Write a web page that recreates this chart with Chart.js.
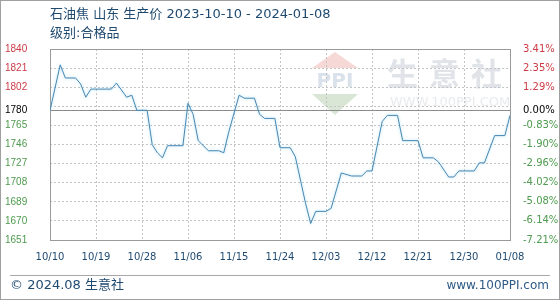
<!DOCTYPE html>
<html>
<head>
<meta charset="utf-8">
<script src="https://cdn.jsdelivr.net/npm/chart.js@4.4.0/dist/chart.umd.min.js"></script>
<style>
    html, body { margin: 0; padding: 0; background: #fff; }
    #wrap { width: 560px; height: 300px; }
</style>
</head>
<body>
<div id="wrap"><canvas id="chart" width="560" height="300"></canvas></div>
<script>
// chart data
var titleText = '石油焦 山东 生产价 2023-10-10 - 2024-01-08';
var subTitleText = '级别:合格品';
var basePrice = 1780;

// day offset from 2023-10-10 and the price at that day
var days   = [0, 2, 3, 5, 6, 7, 8, 12, 13, 15, 16, 17, 19, 20, 21, 22, 23, 26, 27, 28, 29, 31, 33, 34, 35, 37, 38, 40, 41, 42, 44, 45, 47, 48, 50, 51, 52, 54, 55, 57, 59, 61, 62, 63, 65, 66, 68, 69, 72, 73, 75, 76, 78, 79, 80, 83, 84, 85, 87, 89, 90];
var prices = [1780, 1825, 1812, 1812, 1806, 1793, 1801, 1801, 1807, 1793, 1795, 1780, 1780, 1746, 1738, 1733, 1745, 1745, 1787, 1776, 1750, 1740, 1740, 1738, 1759, 1795, 1792, 1792, 1776, 1772, 1772, 1743, 1743, 1734, 1688, 1668, 1680, 1680, 1683, 1718, 1715, 1715, 1720, 1720, 1769, 1775, 1775, 1750, 1750, 1733, 1733, 1729, 1714, 1714, 1720, 1720, 1728, 1728, 1755, 1755, 1775];

var xTickDays   = [0, 9, 18, 27, 36, 45, 54, 63, 72, 81, 90];
var xTickLabels = ['10/10', '10/19', '10/28', '11/06', '11/15', '11/24', '12/03', '12/12', '12/21', '12/30', '01/08'];

var yTickValues     = [1840.70, 1821.80, 1802.89, 1783.99, 1780, 1765.08, 1746.18, 1727.28, 1708.37, 1689.47, 1670.56, 1651.66];
var leftTickLabels  = ['1840', '1821', '1802', '', '1780', '1765', '1746', '1727', '1708', '1689', '1670', '1651'];
var rightTickLabels = ['3.41%', '2.35%', '1.29%', '', '0.00%', '-0.83%', '-1.90%', '-2.96%', '-4.02%', '-5.08%', '-6.14%', '-7.21%'];

var upColor = '#cc3b46';
var downColor = '#4e9a4e';
var textBlue = '#1f4a70';
var gridColor = '#c4c4c4';
var frameColor = '#9a9a9a';

function tickColor(c) {
    var v = c.tick.value;
    if (v > basePrice + 0.001) return upColor;
    if (v < basePrice - 0.001) return downColor;
    return '#000';
}

var decorPlugin = {
    id: 'decor',
    beforeDraw: function (chart) {
        var ctx = chart.ctx;
        ctx.save();
        ctx.fillStyle = '#fff';
        ctx.fillRect(0, 0, chart.width, chart.height);

        // faint watermark logo
        ctx.fillStyle = 'rgba(235,170,165,0.45)';
        ctx.beginPath();
        ctx.moveTo(335, 52); ctx.lineTo(358, 68); ctx.lineTo(312, 68); ctx.closePath();
        ctx.fill();
        ctx.fillStyle = 'rgba(170,200,165,0.45)';
        ctx.beginPath();
        ctx.moveTo(312, 94); ctx.lineTo(358, 94); ctx.lineTo(335, 115); ctx.closePath();
        ctx.fill();
        ctx.fillStyle = 'rgba(180,195,215,0.5)';
        ctx.font = 'bold 20px "DejaVu Sans"';
        ctx.textAlign = 'center';
        ctx.textBaseline = 'middle';
        ctx.fillText('PPI', 335, 82);

        ctx.fillStyle = '#e0e4e9';
        ctx.font = 'bold 31px "Noto Sans CJK SC"';
        ctx.textAlign = 'left';
        ctx.fillText('生', 387, 73);
        ctx.fillText('意', 429, 73);
        ctx.fillText('社', 471, 73);
        ctx.fillStyle = '#e8ebee';
        ctx.font = '13px "DejaVu Sans"';
        ctx.fillText('WWW.100PPI.COM', 390, 103);
        ctx.restore();
    },
    beforeDatasetsDraw: function (chart) {
        var ctx = chart.ctx;
        var a = chart.chartArea;
        var yb = Math.round(chart.scales.y.getPixelForValue(basePrice)) + 0.5;
        ctx.save();
        ctx.strokeStyle = '#8c8c8c';
        ctx.lineWidth = 1;
        ctx.beginPath();
        ctx.moveTo(a.left, yb);
        ctx.lineTo(a.right, yb);
        ctx.stroke();
        ctx.strokeStyle = frameColor;
        ctx.strokeRect(Math.round(a.left) + 0.5, Math.round(a.top) + 0.5,
            Math.round(a.right - a.left), Math.round(a.bottom - a.top));
        ctx.restore();
    },
    beforeDatasetDraw: function (chart) {
        var ctx = chart.ctx;
        ctx.save();
        ctx.shadowColor = 'rgba(120,205,240,0.7)';
        ctx.shadowBlur = 3;
    },
    afterDatasetDraw: function (chart) {
        chart.ctx.restore();
    },
    afterDraw: function (chart) {
        var ctx = chart.ctx;
        ctx.save();
        ctx.textBaseline = 'middle';
        ctx.textAlign = 'left';
        ctx.fillStyle = textBlue;
        ctx.font = '13px "DejaVu Sans", "Noto Sans CJK SC"';
        ctx.fillText(titleText, 50, 15);
        ctx.fillText(subTitleText, 50, 34);

        // footer
        ctx.strokeStyle = '#a8a8a8';
        ctx.lineWidth = 1;
        ctx.beginPath();
        ctx.moveTo(10, 275.5);
        ctx.lineTo(550, 275.5);
        ctx.stroke();
        ctx.fillText('© 2024.08 生意社', 10, 286);
        ctx.textAlign = 'right';
        ctx.fillStyle = '#2d5b86';
        ctx.font = '12px "DejaVu Sans"';
        ctx.fillText('www.100PPI.com', 549, 286);

        // outer frame
        ctx.strokeStyle = '#a0a0a0';
        ctx.strokeRect(0.5, 0.5, chart.width - 1, chart.height - 1);
        ctx.restore();
    }
};

var points = days.map(function (d, i) { return { x: d, y: prices[i] }; });

var config = {
    type: 'line',
    data: {
        datasets: [{
            label: '石油焦',
            data: points,
            borderColor: '#4a87b0',
            borderWidth: 1,
            pointRadius: 0,
            tension: 0,
            fill: false
        }]
    },
    options: {
        responsive: false,
        animation: false,
        layout: { padding: { left: 5, right: 0, top: 49, bottom: 0 } },
        plugins: {
            legend: { display: false },
            tooltip: { enabled: false }
        },
        scales: {
            x: {
                type: 'linear',
                min: 0,
                max: 90,
                afterBuildTicks: function (scale) {
                    scale.ticks = xTickDays.map(function (v) { return { value: v }; });
                },
                afterFit: function (scale) { scale.height = 60; },
                grid: { color: gridColor, drawTicks: false },
                border: { display: false, dash: [2, 2] },
                ticks: {
                    autoSkip: false,
                    maxRotation: 0,
                    padding: 11,
                    color: textBlue,
                    font: { family: 'DejaVu Sans', size: 10 },
                    callback: function (value) {
                        var i = xTickDays.indexOf(value);
                        return i < 0 ? '' : xTickLabels[i];
                    }
                }
            },
            y: {
                type: 'linear',
                position: 'left',
                min: 1651.66,
                max: 1840.70,
                afterBuildTicks: function (scale) {
                    scale.ticks = yTickValues.map(function (v) { return { value: v }; });
                },
                afterFit: function (scale) { scale.width = 45; },
                grid: {
                    drawTicks: false,
                    color: function (c) {
                        return c.tick && c.tick.value === basePrice ? 'rgba(0,0,0,0)' : gridColor;
                    }
                },
                border: { display: false, dash: [2, 2] },
                ticks: {
                    autoSkip: false,
                    crossAlign: 'far',
                    padding: 5,
                    color: tickColor,
                    font: { family: 'Liberation Sans', size: 10 },
                    callback: function (value) {
                        var i = yTickValues.indexOf(value);
                        return i < 0 ? '' : leftTickLabels[i];
                    }
                }
            },
            y2: {
                type: 'linear',
                position: 'right',
                min: 1651.66,
                max: 1840.70,
                afterBuildTicks: function (scale) {
                    scale.ticks = yTickValues.map(function (v) { return { value: v }; });
                },
                afterFit: function (scale) { scale.width = 50; },
                grid: { display: false },
                border: { display: false },
                ticks: {
                    autoSkip: false,
                    padding: 5,
                    color: tickColor,
                    font: { family: 'DejaVu Sans', size: 10 },
                    callback: function (value) {
                        var i = yTickValues.indexOf(value);
                        return i < 0 ? '' : rightTickLabels[i];
                    }
                }
            }
        }
    },
    plugins: [decorPlugin]
};

var chartCtx = document.getElementById('chart').getContext('2d');
window.myLine = new Chart(chartCtx, config);
</script>
</body>
</html>
